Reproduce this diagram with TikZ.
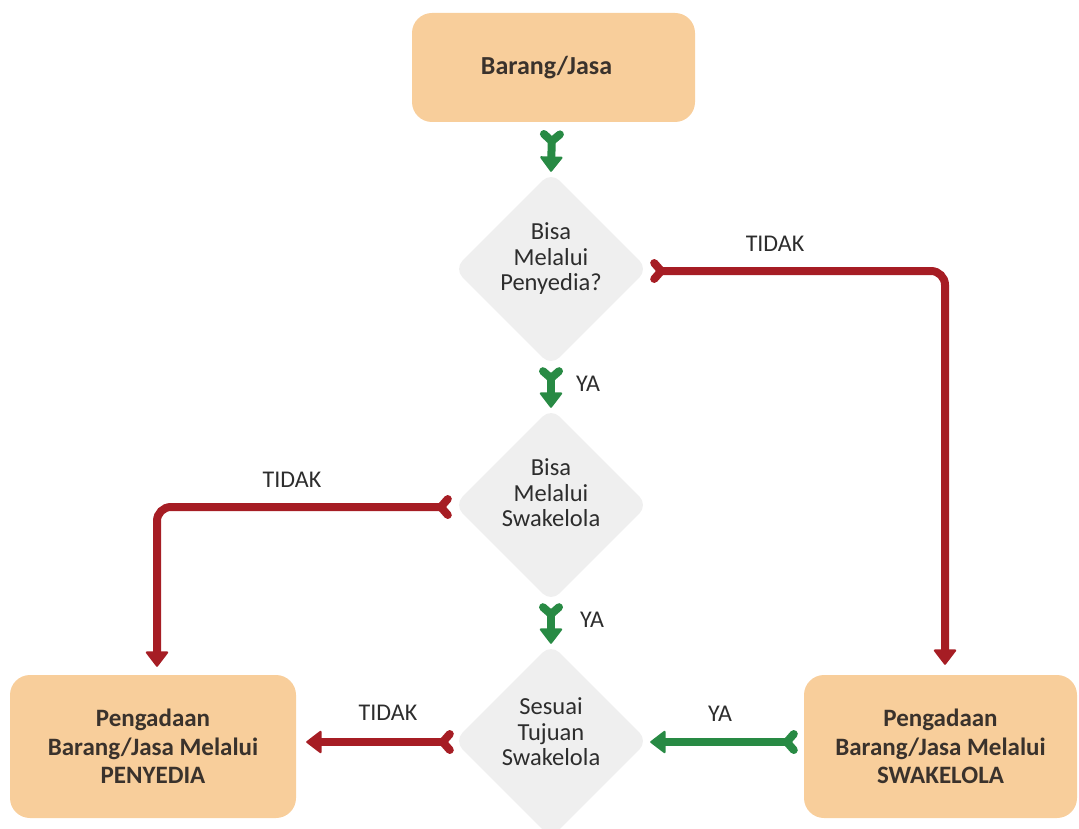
\documentclass[tikz,border=0pt]{standalone}
\usepackage{fontspec}
\setmainfont{Carlito}
\usetikzlibrary{shapes.geometric, arrows.meta, calc}
\definecolor{boxfill}{RGB}{248,206,155}
\definecolor{decfill}{RGB}{239,239,239}
\definecolor{noline}{RGB}{166,29,36}
\definecolor{yesline}{RGB}{40,138,68}
\definecolor{ink}{RGB}{45,45,45}
\definecolor{boxink}{RGB}{58,50,44}

% stacked question text, lifted a little above the diamond centre
\newcommand\decisiontext[2]{\raisebox{#1}[\height][\depth]{\begin{tabular}{@{}c@{}}#2\end{tabular}}}

\begin{document}
\begin{tikzpicture}[x=1pt, y=-1pt,
  procbox/.style={rectangle, rounded corners=20pt, fill=boxfill, text=boxink,
    font=\fontsize{25}{28.5}\selectfont\bfseries, align=center, inner sep=0pt},
  decision/.style={diamond, aspect=1, rounded corners=12pt, fill=decfill,
    minimum width=194pt, minimum height=194pt, inner sep=0pt,
    text=ink, font=\fontsize{24.5}{25.5}\selectfont},
  flow/.style={line width=8pt,
    {Straight Barb[reversed, round, length=7pt, width=16pt]}-{Triangle[round, length=16pt, width=24pt, line width=2pt]}},
  yesflow/.style={flow, draw=yesline},
  noflow/.style={flow, draw=noline, rounded corners=14pt},
  lbl/.style={text=ink, font=\fontsize{24}{25}\selectfont, inner sep=0pt}
]
\useasboundingbox (0,0) rectangle (1079,829);

% process boxes
\node[procbox, minimum width=283pt, minimum height=109pt, font=\fontsize{26}{28.5}\selectfont\bfseries]
  (src) at (553.5,67.5) {\hspace*{-14pt}Barang/Jasa};
\node[procbox, minimum width=286pt, minimum height=143pt]
  (pen) at (153,746.5) {Pengadaan\\Barang/Jasa Melalui\\PENYEDIA};
\node[procbox, minimum width=273pt, minimum height=143pt]
  (swa) at (940.5,746.5) {Pengadaan\\Barang/Jasa Melalui\\SWAKELOLA};

% decisions
\node[decision] (d1) at (551,269) {\decisiontext{9pt}{Bisa\\Melalui\\Penyedia?}};
\node[decision] (d2) at (551,505) {\decisiontext{9pt}{Bisa\\Melalui\\Swakelola}};
\node[decision] (d3) at (551,741) {\decisiontext{6pt}{Sesuai\\Tujuan\\Swakelola}};

% vertical YA connectors
\draw[yesflow] ($(src.south)+(-1.5,8)$) -- (d1.north);
\draw[yesflow] ($(d1.south)+(0,1)$) -- (d2.north);
\draw[yesflow] ($(d2.south)+(0,1)$) -- (d3.north);

% TIDAK branches
\draw[noflow] ($(d1.east)+(2,2)$) -| ($(swa.north)+(4.5,-10)$);
\draw[noflow] ($(d2.west)+(-2,2)$) -| ($(pen.north)+(4,-8)$);
\draw[noflow] ($(d3.west)+(0,1)$) coordinate (r3s) -- ($(r3s -| pen.east)+(10,0)$);

% YA from swakelola back to the last decision
\draw[yesflow] ($(swa.west)+(-6,-4.5)$) coordinate (g4s) -- ($(g4s -| d3.east)+(2,0)$);

% connector labels
\node[lbl] (t1) at (775,244) {TIDAK};
\node[lbl] (y1) at (588,384) {YA};
\node[lbl] (t2) at (292,480) {TIDAK};
\node[lbl] (y2) at (592,620) {YA};
\node[lbl] (t3) at (388,713) {TIDAK};
\node[lbl] (y3) at (720,714) {YA};
\end{tikzpicture}
\end{document}
